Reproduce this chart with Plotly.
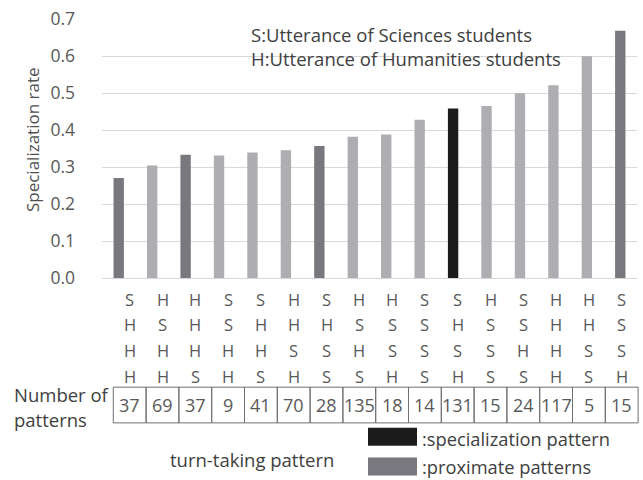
import plotly.graph_objects as go

# ---- data ----
row1 = ["S", "H", "H", "S", "S", "H", "S", "H", "H", "S", "S", "H", "S", "H", "H", "S"]
row2 = ["H", "S", "H", "S", "H", "H", "H", "S", "S", "S", "H", "S", "S", "H", "H", "S"]
row3 = ["H", "H", "H", "H", "H", "S", "S", "H", "S", "S", "S", "S", "H", "H", "S", "S"]
row4 = ["H", "H", "S", "H", "S", "H", "S", "S", "H", "S", "H", "S", "S", "H", "S", "H"]
rates = [0.270, 0.304, 0.333, 0.331, 0.339, 0.345, 0.357, 0.382, 0.388, 0.428,
         0.458, 0.465, 0.499, 0.521, 0.599, 0.668]
counts = [37, 69, 37, 9, 41, 70, 28, 135, 18, 14, 131, 15, 24, 117, 5, 15]
kinds = ["prox", "other", "prox", "other", "other", "other", "prox", "other", "other",
         "other", "spec", "other", "other", "other", "other", "prox"]
yticks = [0.0, 0.1, 0.2, 0.3, 0.4, 0.5, 0.6, 0.7]

categories = [a + b + c + d for a, b, c, d in zip(row1, row2, row3, row4)]

# ---- style ----
FONT = "Open Sans"
TXT = "#404040"
COL = {"prox": "#78787e", "other": "#adadb2", "spec": "#1c1c1c"}
W, H = 643, 480
L, R, T, B = 102, 6, 17, 202
PW, PH = W - L - R, H - T - B


def px(x):
    return (x - L) / PW


def py(y):
    return (H - B - y) / PH


fig = go.Figure()
fig.add_trace(go.Bar(
    x=categories, y=rates,
    marker=dict(color=[COL[k] for k in kinds], line=dict(width=0)),
    showlegend=False, hoverinfo="x+y",
))

annotations = []
shapes = []


def note(text, x, y, size, anchor="center", color=TXT, angle=0):
    annotations.append(dict(text=text, x=px(x), y=py(y), xref="paper", yref="paper",
                            textangle=angle, showarrow=False, xanchor=anchor, yanchor="middle",
                            font=dict(family=FONT, size=size, color=color)))


# y-axis title
note("Specialization rate", 32, 139, 17, angle=-90, color="#505050")

# key text inside plot
note("S:Utterance of Sciences students", 249, 33, 18.5, anchor="left")
note("H:Utterance of Humanities students", 249, 57, 18.5, anchor="left")

# pattern letters and table
cell_left, cell_w = 113.3, 32.8
row_y = [300, 325, 351, 377]
tab_top, tab_bot = 388, 424
for i in range(len(categories)):
    cx = cell_left + cell_w * (i + 0.5)
    for r, row in enumerate([row1, row2, row3, row4]):
        note(row[i], cx, row_y[r], 16.5, color="#595959")
    note(str(counts[i]), cx, 406, 18, color="#595959")
    shapes.append(dict(type="rect", xref="paper", yref="paper",
                       x0=px(cell_left + cell_w * i), x1=px(cell_left + cell_w * (i + 1)),
                       y0=py(tab_bot), y1=py(tab_top), line=dict(color="#707070", width=1)))

note("Number of", 12, 395, 18.5, anchor="left")
note("patterns", 12, 421, 18.5, anchor="left")
note("turn-taking pattern", 252, 461, 18.5)

# legend
for (y0, y1, col, lab, ty) in [(429, 447, COL["spec"], ":specialization pattern", 440),
                               (459, 477, COL["prox"], ":proximate patterns", 468)]:
    shapes.append(dict(type="rect", xref="paper", yref="paper", x0=px(368), x1=px(417),
                       y0=py(y1), y1=py(y0), fillcolor=col, line=dict(width=0)))
    note(lab, 420, ty, 18.3, anchor="left")

fig.update_layout(
    width=W, height=H,
    margin=dict(l=L, r=R, t=T, b=B, pad=0),
    paper_bgcolor="white", plot_bgcolor="white",
    bargap=0.69,
    font=dict(family=FONT, color=TXT),
    xaxis=dict(showticklabels=False, showgrid=False, zeroline=False, showline=False, ticks=""),
    yaxis=dict(range=[0, 0.7], tickvals=yticks, ticktext=[f"{v:.1f}" for v in yticks],
               showgrid=True, gridcolor="#d9d9d9", gridwidth=1, zeroline=True,
               zerolinecolor="#d9d9d9", zerolinewidth=1, showline=False, ticks="",
               ticklabelstandoff=26, tickfont=dict(family=FONT, size=17.5, color="#595959")),
    annotations=annotations, shapes=shapes,
)

fig.write_html("out.html", config={"displayModeBar": False},
               post_script="document.body.style.margin='0';")
